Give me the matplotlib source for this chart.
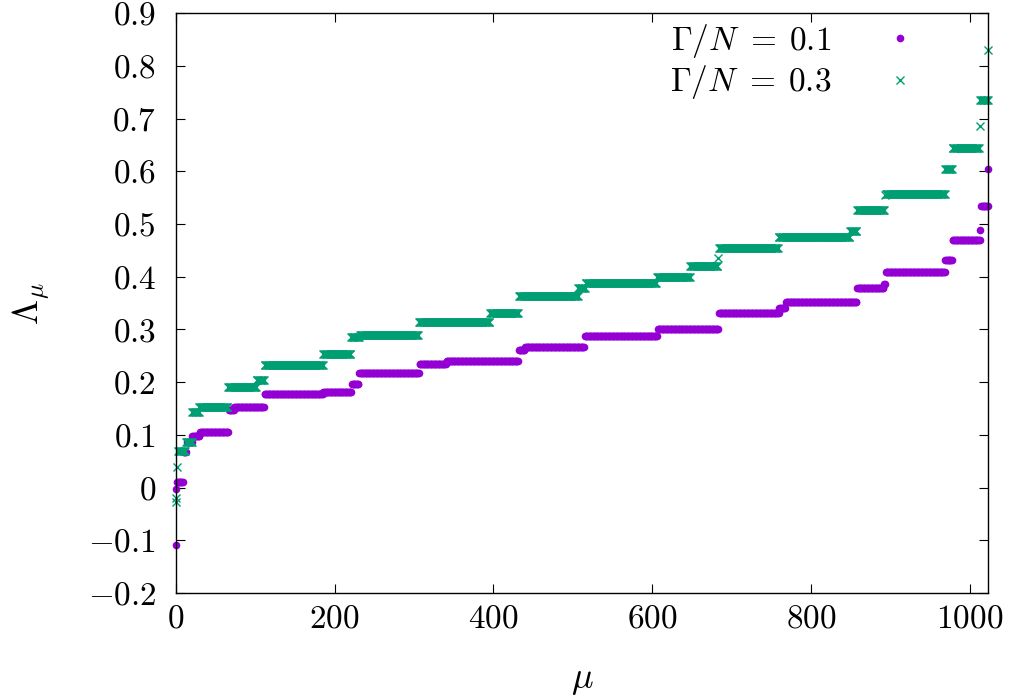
import numpy as np
import matplotlib
matplotlib.use("Agg")
import matplotlib.pyplot as plt

plt.rcParams['mathtext.fontset'] = 'cm'
plt.rcParams['font.family'] = 'serif'
plt.rcParams['font.serif'] = ['cmr10', 'DejaVu Serif']
plt.rcParams['axes.formatter.use_mathtext'] = True

# plateau levels and how many eigenvalues sit on each
lam_01 = [-0.109, -0.003, 0.010, 0.068, 0.087, 0.098, 0.105, 0.147, 0.152, 0.178,
          0.182, 0.196, 0.217, 0.235, 0.240, 0.262, 0.267, 0.288, 0.300, 0.331,
          0.340, 0.352, 0.378, 0.386, 0.409, 0.431, 0.470, 0.489, 0.534, 0.604]
cnt_01 = [1, 1, 8, 4, 7, 10, 36, 7, 38, 74,
          36, 9, 76, 34, 91, 8, 75, 92, 77, 76,
          8, 90, 34, 2, 75, 9, 35, 1, 9, 1]

lam_03 = [-0.027, -0.020, 0.040, 0.069, 0.087, 0.143, 0.152, 0.190, 0.204, 0.233,
          0.253, 0.285, 0.290, 0.315, 0.331, 0.364, 0.379, 0.388, 0.400, 0.421,
          0.435, 0.454, 0.476, 0.486, 0.527, 0.555, 0.558, 0.605, 0.645, 0.686,
          0.735, 0.830]
cnt_03 = [1, 1, 1, 10, 8, 9, 36, 36, 10, 74,
          35, 11, 74, 90, 36, 75, 9, 90, 42, 35,
          1, 75, 90, 9, 35, 1, 75, 9, 34, 1,
          10, 1]

labels = [r'$\Gamma/N\,\,=\:0.1$', r'$\Gamma/N\,\,=\:0.3$']
xticks = [0, 200, 400, 600, 800, 1000]
yticks = [-0.2, -0.1, 0, 0.1, 0.2, 0.3, 0.4, 0.5, 0.6, 0.7, 0.8, 0.9]

y1 = np.repeat(lam_01, cnt_01)
y2 = np.repeat(lam_03, cnt_03)
mu1 = np.arange(len(y1))
mu2 = np.arange(len(y2))

fig = plt.figure(figsize=(10.09, 6.98), dpi=100)
ax = fig.add_axes([0.1741, 0.1504, 0.9795 - 0.1741, 0.981 - 0.1504])

ax.plot(mu1, y1, 'o', color='#9400D3', markersize=5.5, markeredgewidth=0,
        linestyle='none', clip_on=False, label=labels[0])
ax.plot(mu2, y2, 'x', color='#009E73', markersize=6, markeredgewidth=1.0,
        linestyle='none', clip_on=False, label=labels[1])

ax.set_xlim(0, 1023)
ax.set_ylim(-0.2, 0.9)
ax.set_xticks(xticks)
ax.set_xticklabels([r'$%d$' % t for t in xticks])
ax.set_yticks(yticks)
ax.set_yticklabels([r'$%g$' % t for t in yticks])

ax.tick_params(direction='in', length=6.5, width=0.8, top=True, right=True,
               labelsize=24)
ax.tick_params(axis='x', pad=8)
ax.tick_params(axis='y', pad=14)
for s in ax.spines.values():
    s.set_linewidth(1.0)

ax.set_xlabel(r'$\mu$', fontsize=26)
ax.set_ylabel(r'$\Lambda_\mu$', fontsize=26)
ax.xaxis.set_label_coords(0.5, -0.125)
ax.yaxis.set_label_coords(-0.152, 0.5)

ax.legend(loc='upper right', bbox_to_anchor=(916.5 / 1009, 1 - 22 / 698),
          bbox_transform=fig.transFigure, frameon=False, markerfirst=False,
          fontsize=24, handlelength=1.0, handletextpad=1.56, borderpad=0,
          borderaxespad=0, labelspacing=0.1)

plt.savefig("out.png", dpi=100)
